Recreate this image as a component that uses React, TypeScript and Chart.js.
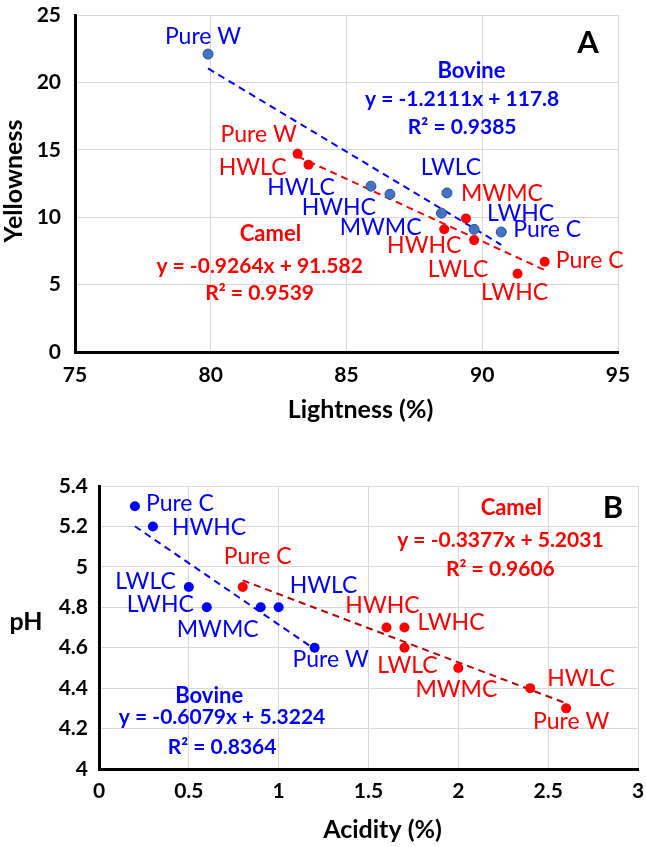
import React, { useEffect, useRef } from 'react';
import Chart from 'chart.js/auto';

const FONT = 'Lato, "DejaVu Sans", sans-serif';
const BLUE = '#0000FF';
const RED = '#FF0000';

// sample names, same order in every series
const samples = ['Pure W', 'HWLC', 'HWHC', 'MWMC', 'LWLC', 'LWHC', 'Pure C'];

// panel A: lightness (%) vs yellowness
const bovineLightness = [79.9, 85.9, 86.6, 88.5, 88.7, 89.7, 90.7];
const bovineYellowness = [22.1, 12.3, 11.7, 10.3, 11.8, 9.1, 8.9];
const camelLightness = [83.2, 83.6, 88.6, 89.4, 89.7, 91.3, 92.3];
const camelYellowness = [14.7, 13.9, 9.1, 9.9, 8.3, 5.8, 6.7];
const bovineFitA = { slope: -1.2111, intercept: 117.8, r2: '0.9385' };
const camelFitA = { slope: -0.9264, intercept: 91.582, r2: '0.9539' };
const ticksLightness = [75, 80, 85, 90, 95];
const ticksYellowness = [0, 5, 10, 15, 20, 25];

// panel B: acidity (%) vs pH
const bovineAcidity = [1.2, 1.0, 0.3, 0.9, 0.5, 0.6, 0.2];
const bovinePH = [4.6, 4.8, 5.2, 4.8, 4.9, 4.8, 5.3];
const camelAcidity = [2.6, 2.4, 1.6, 2.0, 1.7, 1.7, 0.8];
const camelPH = [4.3, 4.4, 4.7, 4.5, 4.6, 4.7, 4.9];
const bovineFitB = { slope: -0.6079, intercept: 5.3224, r2: '0.8364' };
const camelFitB = { slope: -0.3377, intercept: 5.2031, r2: '0.9606' };
const ticksAcidity = [0, 0.5, 1, 1.5, 2, 2.5, 3];
const ticksPH = [4, 4.2, 4.4, 4.6, 4.8, 5, 5.2, 5.4];

type Align = 'left' | 'right' | 'center';
type LabelPos = [Align, number, number];

// label placement next to each point (px offsets), same order as samples
const labelsBovineA: LabelPos[] = [
  ['center', -5, -18], ['right', -36, 1], ['right', -14, 13], ['right', -20, 14],
  ['center', 4, -25], ['left', 13, -16], ['left', 12, -2],
];
const labelsCamelA: LabelPos[] = [
  ['center', -39, -19], ['right', -22, 3], ['center', -20, 16], ['center', 36, -25],
  ['center', -16, 29], ['center', -3, 19], ['left', 11, -1],
];
const labelsBovineB: LabelPos[] = [
  ['center', 16, 12], ['left', 11, -22], ['left', 19, 1], ['center', -43, 22],
  ['right', -13, -5], ['right', -13, -3], ['left', 11, -3],
];
const labelsCamelB: LabelPos[] = [
  ['center', 5, 13], ['left', 17, -10], ['center', -4, -22], ['center', -2, 22],
  ['center', 3, 18], ['left', 13, -5], ['center', 15, -30],
];

interface Note { text: string; x: number; y: number; color: string; size: number }

const fitText = (f: { slope: number; intercept: number }) =>
  `y = ${f.slope}x + ${f.intercept}`;

const notesA: Note[] = [
  { text: 'A', x: 93.9, y: 22.9, color: '#000', size: 31 },
  { text: 'Bovine', x: 89.6, y: 20.85, color: BLUE, size: 22 },
  { text: fitText(bovineFitA), x: 89.26, y: 18.77, color: BLUE, size: 21 },
  { text: `R² = ${bovineFitA.r2}`, x: 89.26, y: 16.69, color: BLUE, size: 21 },
  { text: 'Camel', x: 82.2, y: 8.75, color: RED, size: 22 },
  { text: fitText(camelFitA), x: 81.8, y: 6.38, color: RED, size: 21 },
  { text: `R² = ${camelFitA.r2}`, x: 81.8, y: 4.38, color: RED, size: 21 },
];
const notesB: Note[] = [
  { text: 'B', x: 2.86, y: 5.29, color: '#000', size: 31 },
  { text: 'Camel', x: 2.295, y: 5.29, color: RED, size: 22 },
  { text: fitText(camelFitB), x: 2.234, y: 5.134, color: RED, size: 21 },
  { text: `R² = ${camelFitB.r2}`, x: 2.234, y: 4.99, color: RED, size: 21 },
  { text: 'Bovine', x: 0.613, y: 4.36, color: BLUE, size: 22 },
  { text: fitText(bovineFitB), x: 0.685, y: 4.257, color: BLUE, size: 21 },
  { text: `R² = ${bovineFitB.r2}`, x: 0.685, y: 4.109, color: BLUE, size: 21 },
];

const toPoints = (xs: number[], ys: number[]) => xs.map((x, i) => ({ x, y: ys[i] }));
const fitLine = (xs: number[], f: { slope: number; intercept: number }) => {
  const lo = Math.min(...xs);
  const hi = Math.max(...xs);
  return [lo, hi].map((x) => ({ x, y: f.slope * x + f.intercept }));
};

interface PanelProps {
  width: number;
  height: number;
  area: { left: number; top: number; right: number; bottom: number };
  xTicks: number[];
  yTicks: number[];
  xTitle: string;
  yTitle: string;
  yTitleRotated: boolean;
  yTitlePos: [number, number];
  xTitleY: number;
  xTickPad: number;
  yTickPad: number;
  series: {
    xs: number[];
    ys: number[];
    fit: { slope: number; intercept: number };
    fill: string;
    border: string;
    borderWidth: number;
    lineColor: string;
    labelColor: string;
    labels: LabelPos[];
  }[];
  notes: Note[];
}

const Panel: React.FC<PanelProps> = (p) => {
  const canvasRef = useRef<HTMLCanvasElement>(null);

  useEffect(() => {
    if (!canvasRef.current) return;

    const datasets: any[] = [];
    p.series.forEach((s) => {
      datasets.push({
        data: toPoints(s.xs, s.ys),
        backgroundColor: s.fill,
        borderColor: s.border,
        borderWidth: s.borderWidth,
        pointRadius: 5,
        order: 0,
      });
      datasets.push({
        data: fitLine(s.xs, s.fit),
        showLine: true,
        borderColor: s.lineColor,
        borderWidth: 2,
        borderDash: [7, 5],
        pointRadius: 0,
        order: 1,
      });
    });

    const textPlugin = {
      id: 'panelText',
      afterDatasetsDraw(chart: any) {
        const { ctx, scales, chartArea } = chart;
        ctx.save();
        ctx.textBaseline = 'middle';
        // point labels
        p.series.forEach((s) => {
          ctx.fillStyle = s.labelColor;
          ctx.font = `23px ${FONT}`;
          s.xs.forEach((x, i) => {
            const [align, dx, dy] = s.labels[i];
            ctx.textAlign = align;
            ctx.fillText(samples[i], scales.x.getPixelForValue(x) + dx, scales.y.getPixelForValue(s.ys[i]) + dy);
          });
        });
        // equations and panel letters
        p.notes.forEach((n) => {
          ctx.fillStyle = n.color;
          ctx.font = `bold ${n.size}px ${FONT}`;
          ctx.textAlign = 'center';
          ctx.fillText(n.text, scales.x.getPixelForValue(n.x), scales.y.getPixelForValue(n.y));
        });
        // axis titles
        ctx.fillStyle = '#000';
        ctx.font = `bold 25px ${FONT}`;
        ctx.textAlign = 'center';
        ctx.fillText(p.xTitle, (chartArea.left + chartArea.right) / 2 + 14, p.xTitleY);
        ctx.translate(p.yTitlePos[0], p.yTitlePos[1]);
        if (p.yTitleRotated) ctx.rotate(-Math.PI / 2);
        ctx.fillText(p.yTitle, 0, 0);
        ctx.restore();
      },
    };

    const tickFont = { family: FONT, size: 21, weight: 'bold' as const };
    const grid = { color: '#d9d9d9', lineWidth: 1, drawTicks: false };
    const border = { color: '#000', width: 3 };
    const noPad = (s: any) => {
      s.paddingLeft = 0;
      s.paddingRight = 0;
      s.paddingTop = 0;
      s.paddingBottom = 0;
    };
    const plain = (v: any) => `${v}`;

    const chart = new Chart(canvasRef.current, {
      type: 'scatter',
      data: { datasets },
      options: {
        responsive: false,
        animation: false,
        layout: {
          padding: { left: 0, top: p.area.top, right: p.width - p.area.right, bottom: 0 },
        },
        plugins: { legend: { display: false }, tooltip: { enabled: false } },
        scales: {
          x: {
            type: 'linear',
            min: p.xTicks[0],
            max: p.xTicks[p.xTicks.length - 1],
            afterBuildTicks: (s: any) => { s.ticks = p.xTicks.map((v) => ({ value: v })); },
            ticks: { font: tickFont, color: '#000', padding: p.xTickPad, maxRotation: 0, callback: plain },
            grid,
            border,
            afterFit: (s: any) => { s.height = p.height - p.area.bottom; noPad(s); },
          },
          y: {
            type: 'linear',
            min: p.yTicks[0],
            max: p.yTicks[p.yTicks.length - 1],
            afterBuildTicks: (s: any) => { s.ticks = p.yTicks.map((v) => ({ value: v })); },
            ticks: { font: tickFont, color: '#000', padding: p.yTickPad, callback: plain },
            grid,
            border,
            afterFit: (s: any) => { s.width = p.area.left; noPad(s); },
          },
        },
      },
      plugins: [textPlugin],
    });

    return () => {
      chart.destroy();
    };
  }, []);

  return (
    <canvas
      ref={canvasRef}
      width={p.width}
      height={p.height}
      style={{ display: 'block', width: p.width, height: p.height }}
    />
  );
};

const App: React.FC = () => (
  <div style={{ position: 'absolute', left: 0, top: 0, width: 646, height: 847, background: '#fff' }}>
    <Panel
      width={646}
      height={430}
      area={{ left: 75, top: 15, right: 618, bottom: 352 }}
      xTicks={ticksLightness}
      yTicks={ticksYellowness}
      xTitle="Lightness (%)"
      yTitle="Yellowness"
      yTitleRotated
      yTitlePos={[14, 181]}
      xTitleY={410}
      xTickPad={11}
      yTickPad={14}
      series={[
        {
          xs: bovineLightness, ys: bovineYellowness, fit: bovineFitA,
          fill: '#4472C4', border: '#2F528F', borderWidth: 1,
          lineColor: BLUE, labelColor: BLUE, labels: labelsBovineA,
        },
        {
          xs: camelLightness, ys: camelYellowness, fit: camelFitA,
          fill: RED, border: RED, borderWidth: 0,
          lineColor: RED, labelColor: RED, labels: labelsCamelA,
        },
      ]}
      notes={notesA}
    />
    <Panel
      width={646}
      height={417}
      area={{ left: 99, top: 56, right: 638, bottom: 339 }}
      xTicks={ticksAcidity}
      yTicks={ticksPH}
      xTitle="Acidity (%)"
      yTitle="pH"
      yTitleRotated={false}
      yTitlePos={[26, 192]}
      xTitleY={400}
      xTickPad={10}
      yTickPad={11}
      series={[
        {
          xs: bovineAcidity, ys: bovinePH, fit: bovineFitB,
          fill: BLUE, border: BLUE, borderWidth: 0,
          lineColor: BLUE, labelColor: BLUE, labels: labelsBovineB,
        },
        {
          xs: camelAcidity, ys: camelPH, fit: camelFitB,
          fill: RED, border: RED, borderWidth: 0,
          lineColor: '#C00000', labelColor: RED, labels: labelsCamelB,
        },
      ]}
      notes={notesB}
    />
  </div>
);

export default App;
